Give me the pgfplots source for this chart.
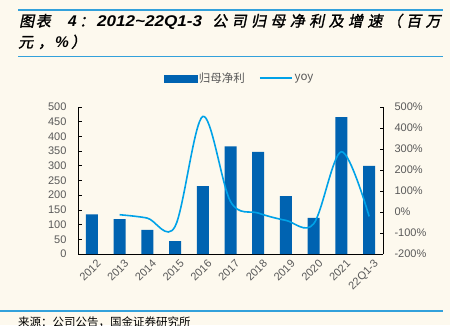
\documentclass[border=0pt]{standalone}
\usepackage{graphicx}
\usepackage{pgfplots}
\pgfplotsset{compat=1.18}
\usepackage{fontspec}
\setmainfont{Liberation Sans}
\newfontfamily\cjk{Noto Sans CJK SC}
\newfontfamily\cjkt[FakeBold=1.5,FakeSlant=0.2]{Noto Sans CJK SC}
\newfontfamily\latt{Liberation Sans}
\definecolor{cream}{RGB}{253,249,238}
\definecolor{barblue}{RGB}{0,99,177}
\definecolor{lineblue}{RGB}{0,162,232}
\definecolor{titleblue}{RGB}{51,161,219}
\definecolor{labgray}{RGB}{89,89,89}
\newcommand{\s}{\hspace{4.4pt}}
\pgfplotstableread{
x profit
0 135
1 119
2 82
3 44
4 231
5 366
6 347
7 197
8 123
9 466
10 300
}\profit
\pgfplotstableread{
x yoy
1 -13
2 -29
3 -69
4 455
5 50
6 -5
7 -40
8 -56
9 287
10 -21
}\yoy
\begin{document}
\begin{tikzpicture}
\fill[cream] (0,0) rectangle (450pt,325pt);
\useasboundingbox (0,0) rectangle (450pt,325pt);
\draw[titleblue, line width=1.4pt] (18pt,315pt) -- (443pt,315pt);
\draw[titleblue, line width=1.4pt] (18pt,268.3pt) -- (443pt,268.3pt);
\draw[titleblue, line width=1.4pt] (0pt,14pt) -- (443pt,14pt);
\begin{scope}[every node/.style={anchor=base west, inner sep=0}]
\node at (19pt,298.5pt) {\cjkt\fontsize{15}{18}\selectfont 图\hspace{1.5pt}表};
\node at (68pt,298.5pt) {\latt\fontsize{15.5}{18}\selectfont\bfseries\itshape 4};
\node at (79pt,298.5pt) {\cjkt\fontsize{15}{18}\selectfont ：};
\node at (97pt,298.5pt) {\resizebox{105pt}{\height}{\latt\fontsize{15.5}{18}\selectfont\bfseries\itshape 2012\textasciitilde 22Q1-3}};
\node at (212pt,298.5pt) {\cjkt\fontsize{15}{18}\selectfont 公\s 司\s 归\s 母\s 净\s 利\s 及\s 增\s 速\s （\s 百\s 万};
\node at (18pt,277.5pt) {\cjkt\fontsize{15}{18}\selectfont 元};
\node at (38pt,277.5pt) {\cjkt\fontsize{15}{18}\selectfont ，};
\node at (55pt,277.5pt) {\latt\fontsize{15.5}{18}\selectfont\bfseries\itshape\%};
\node at (71pt,277.5pt) {\cjkt\fontsize{15}{18}\selectfont ）};
\end{scope}
\node[anchor=north west, inner sep=0] at (18pt,8pt) {\cjk\fontsize{11.5}{13}\selectfont 来源：公司公告，国金证券研究所};
\pgfplotsset{
  every axis/.append style={
    at={(78pt,71pt)}, anchor=south west, scale only axis,
    width=305pt, height=147pt,
    xmin=-0.5, xmax=10.5,
    tick align=inside,
    tick style={black, line width=0.8pt},
    axis line style={black, line width=0.8pt},
    ticklabel style={font=\fontsize{11}{13}\selectfont, text=labgray},
    /pgf/number format/assume math mode=true,
    major tick length=3.5pt, minor tick length=3.5pt,
  }
}
\begin{axis}[
  ymin=0, ymax=500, ytick={0,50,...,500},
  axis y line*=left, axis x line*=bottom,
  xtick={0,...,10},
  xticklabels={2012,2013,2014,2015,2016,2017,2018,2019,2020,2021,22Q1-3},
  x tick style={draw=none},
  minor xtick={-0.5,0.5,...,10.5},
  minor x tick style={black, line width=0.8pt},
  x tick label style={rotate=45, anchor=north east, xshift=3pt, yshift=-3pt},
  y tick label style={xshift=-8pt},
]
\addplot[ybar, bar width=12pt, fill=barblue, draw=none] table[x=x,y=profit] {\profit};
\end{axis}
\begin{axis}[
  ymin=-200, ymax=500, ytick={-200,-100,...,500},
  yticklabel={\pgfmathprintnumber{\tick}\%},
  axis y line*=right, axis x line=none,
  y tick label style={xshift=8pt},
  legend columns=2,
  legend style={at={(0.5,1)}, anchor=south, xshift=9pt, yshift=19pt, draw=none, fill=none,
    font=\cjk\fontsize{11.5}{13}\selectfont, text=labgray,
    /tikz/every even column/.append style={column sep=12pt}},
]
\addlegendimage{legend image code/.code={\fill[barblue] (0pt,-3.5pt) rectangle (33pt,3.5pt);}}
\addlegendentry{归母净利}
\addplot[lineblue, line width=1.6pt, smooth, tension=0.55,
  legend image code/.code={\draw[lineblue, line width=1.6pt] (0pt,0pt) -- (32pt,0pt);}]
  table[x=x,y=yoy] {\yoy};
\addlegendentry{yoy}
\end{axis}
\end{tikzpicture}
\end{document}
